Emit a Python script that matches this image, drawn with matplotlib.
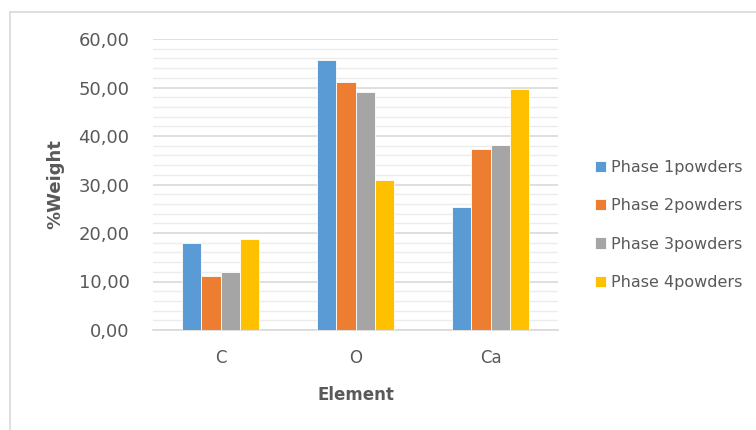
import matplotlib
matplotlib.use("Agg")
import matplotlib.pyplot as plt
import numpy as np
from matplotlib.lines import Line2D
from matplotlib.ticker import MultipleLocator, FuncFormatter

categories = ["C", "O", "Ca"]
series_names = ["Phase 1powders", "Phase 2powders", "Phase 3powders", "Phase 4powders"]
phase1 = [17.9, 55.7, 25.3]
phase2 = [11.1, 51.1, 37.3]
phase3 = [12.0, 49.1, 38.1]
phase4 = [18.8, 30.9, 49.6]
colors = ["#5b9bd5", "#ed7d31", "#a5a5a5", "#ffc000"]

plt.rcParams['font.family'] = ['DejaVu Sans']
txt = "#595959"

fig = plt.figure(figsize=(7.56, 4.30), dpi=100)
ax = fig.add_axes([153/756, 1-330/430, (558-153)/756, (330-39)/430])

x = np.arange(len(categories))
w = 0.143
for i, (vals, c, n) in enumerate(zip([phase1, phase2, phase3, phase4], colors, series_names)):
    ax.bar(x + (i - 1.5) * w, vals, w, color=c, label=n, zorder=3,
           edgecolor="white", linewidth=0.6)

ax.set_xlim(-0.5, 2.5)
ax.set_ylim(0, 60)
ax.yaxis.set_major_locator(MultipleLocator(10))
ax.yaxis.set_minor_locator(MultipleLocator(2))
ax.yaxis.set_major_formatter(FuncFormatter(lambda v, p: f"{v:.2f}".replace(".", ",")))
ax.grid(axis="y", which="major", color="#d9d9d9", linewidth=1.2, zorder=0)
ax.grid(axis="y", which="minor", color="#ececec", linewidth=1.0, zorder=0)
ax.set_axisbelow(True)
for s in ["top", "right", "left"]:
    ax.spines[s].set_visible(False)
ax.spines["bottom"].set_color("#d9d9d9")
ax.spines["bottom"].set_linewidth(1.2)
ax.tick_params(axis="both", which="both", length=0, colors=txt)
ax.tick_params(axis="y", labelsize=13, pad=17)
ax.tick_params(axis="x", labelsize=12, pad=14)
ax.set_xticks(x)
ax.set_xticklabels(categories)

ax.set_xlabel("Element", fontsize=12, fontweight="bold", color=txt, labelpad=13)
ax.set_ylabel("%Weight", fontsize=13, fontweight="bold", color=txt, labelpad=10)

leg = ax.legend(loc="center left", bbox_to_anchor=(595/756, 1-225/430),
                bbox_transform=fig.transFigure, frameon=False, borderpad=0,
                borderaxespad=0, fontsize=11.5, labelcolor=txt,
                handlelength=0.7, handleheight=0.7,
                handletextpad=0.3, labelspacing=1.45)

fig.add_artist(Line2D([10/756, 10/756], [0, 1-12/430], color="#d9d9d9", linewidth=1.2,
                      transform=fig.transFigure))
fig.add_artist(Line2D([10/756, 1], [1-12/430, 1-12/430], color="#d9d9d9", linewidth=1.2,
                      transform=fig.transFigure))

fig.savefig("out.png", dpi=100)
